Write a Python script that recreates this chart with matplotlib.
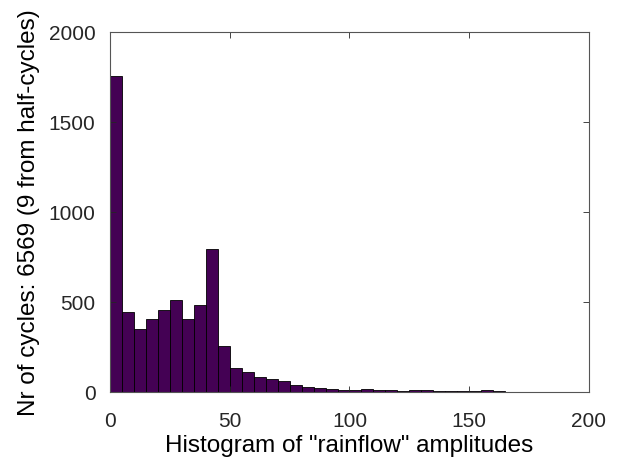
import numpy as np
import matplotlib
matplotlib.use('Agg')
import matplotlib.pyplot as plt

# Histogram counts, bins of width 5 from 0 to 200
bin_edges = np.arange(0, 205, 5)
counts = [1757, 446, 350, 404, 456, 511, 404, 485, 793, 256,
          133, 109, 81, 72, 61, 39, 30, 22, 17, 9,
          12, 14, 10, 12, 4, 12, 10, 3, 3, 6,
          4, 10, 3, 1, 1, 1, 1, 1, 1, 1]
x_ticks = [0, 50, 100, 150, 200]
y_ticks = [0, 500, 1000, 1500, 2000]

plt.rcParams['font.family'] = ['Liberation Sans', 'DejaVu Sans']

fig = plt.figure(figsize=(6.19, 4.6), dpi=100)
ax = fig.add_axes([0.1777, 0.1457, 0.7738, 0.7826])

ax.bar(bin_edges[:-1], counts, width=5, align='edge',
       color='#440154', edgecolor='black', linewidth=0.6)

ax.set_xlim(0, 200)
ax.set_ylim(0, 2000)
ax.set_xticks(x_ticks)
ax.set_yticks(y_ticks)
ax.tick_params(direction='in', top=True, right=True, labelsize=15,
               length=4, width=0.6, colors='#262626')
ax.tick_params(axis='x', pad=13.5)
ax.tick_params(axis='y', pad=10.5)
for s in ax.spines.values():
    s.set_linewidth(0.8)
    s.set_color('#555555')

ax.set_xlabel('Histogram of "rainflow" amplitudes', fontsize=17.5, labelpad=3)
ax.set_ylabel('Nr of cycles: 6569 (9 from half-cycles)', fontsize=17.5, labelpad=6)

fig.savefig('out.png', dpi=100)
